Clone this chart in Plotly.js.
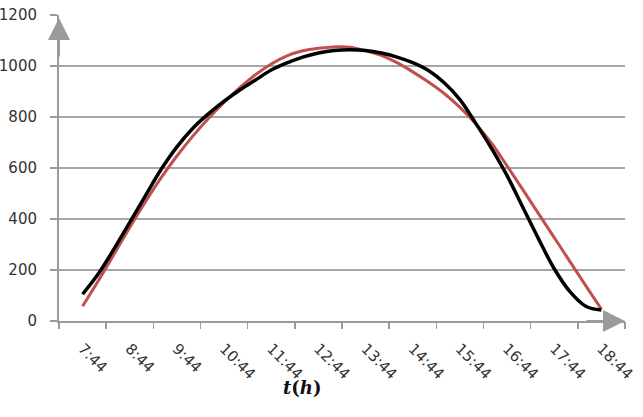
<!DOCTYPE html>
<html>
<head>
<meta charset="utf-8">
<script src="https://cdn.plot.ly/plotly-3.0.1.min.js"></script>
<style>html,body{margin:0;padding:0;background:#fff;}#chart{width:643px;height:417px;}</style>
</head>
<body>
<div id="chart"></div>
<script>
// Category (hour) labels of the x axis
const timeLabels = ["7:44","8:44","9:44","10:44","11:44","12:44","13:44","14:44","15:44","16:44","17:44","18:44"];
// Sample times of both series
const sampleTimes = ["7:44","8:04","8:24","8:44","9:04","9:24","9:44","10:04","10:24","10:44","11:04","11:24",
  "11:44","12:04","12:24","12:44","13:04","13:24","13:44","14:04","14:24","14:44","15:04","15:24",
  "15:44","16:04","16:24","16:44","17:04","17:24","17:44","18:04","18:24","18:44"];
// Measured series (black)
const measured = [105,185,283,387,492,595,683,755,812,862,906,945,
  984,1012,1035,1051,1061,1064,1061,1051,1035,1013,982,934,
  868,776,678,570,446,322,205,115,58,43];
// Model series (red)
const model = [58,158,262,367,468,562,647,724,794,857,915,966,
  1008,1040,1060,1070,1075,1074,1060,1042,1013,977,937,892,
  838,774,698,608,515,421,327,233,139,46];
const yTicks = [0,200,400,600,800,1000,1200];

function toHours(s){ const p = s.split(":"); return +p[0] + (+p[1])/60; }
const xs = sampleTimes.map(toHours);
const labelPos = timeLabels.map(toHours);
const tickBounds = labelPos.map(h => h - 0.5).concat([labelPos[labelPos.length-1] + 0.5]);
const xRange = [tickBounds[0], tickBounds[tickBounds.length-1]];

const axisGrey = "#9b9b9b";
const traces = [
  {x: xs, y: model, mode: "lines", line: {color: "#c0504d", width: 3, shape: "spline", smoothing: 1}, hoverinfo: "skip"},
  {x: xs, y: measured, mode: "lines", line: {color: "#000000", width: 3.5, shape: "spline", smoothing: 1}, hoverinfo: "skip"},
  {x: [], y: [], xaxis: "x2", yaxis: "y", mode: "lines", hoverinfo: "skip"}
];
const layout = {
  width: 643, height: 417,
  margin: {l: 59, r: 18, t: 15, b: 96},
  paper_bgcolor: "#fff", plot_bgcolor: "#fff",
  showlegend: false,
  font: {family: "DejaVu Sans", size: 15, color: "#333"},
  xaxis: {
    range: xRange,
    tickmode: "array", tickvals: labelPos, ticktext: timeLabels,
    tickangle: 45,
    ticks: "outside", ticklen: 7, tickcolor: "rgba(0,0,0,0)",
    ticklabelstandoff: 4,
    showgrid: false, zeroline: false,
    showline: true, linecolor: axisGrey, linewidth: 2,
    tickfont: {family: "DejaVu Sans", size: 15, color: "#333"},
    fixedrange: true
  },
  xaxis2: {
    overlaying: "x", anchor: "y", side: "bottom",
    range: xRange,
    tickmode: "array", tickvals: tickBounds,
    showticklabels: false,
    ticks: "outside", ticklen: 7, tickwidth: 1.5, tickcolor: axisGrey,
    showgrid: false, zeroline: false, showline: false,
    fixedrange: true
  },
  yaxis: {
    range: [0, 1200],
    tickmode: "array", tickvals: yTicks,
    ticks: "outside", ticklen: 7, tickwidth: 1.5, tickcolor: axisGrey,
    showgrid: true, gridcolor: "#a6a6a6", gridwidth: 1.5,
    zeroline: false,
    showline: true, linecolor: axisGrey, linewidth: 2,
    ticklabelstandoff: 10,
    tickfont: {family: "DejaVu Sans", size: 15, color: "#333"},
    fixedrange: true
  },
  annotations: [
    {xref: "paper", yref: "paper", x: 0, y: 0.99, ax: 0, ay: 40, text: "", showarrow: true,
     arrowhead: 2, arrowsize: 2.2, arrowwidth: 2, arrowcolor: axisGrey, standoff: 0},
    {xref: "paper", yref: "paper", x: 1, y: 0, ax: -40, ay: 0, text: "", showarrow: true,
     arrowhead: 2, arrowsize: 2.2, arrowwidth: 2, arrowcolor: axisGrey, standoff: 0},
    {xref: "paper", yref: "paper", x: 0.429, y: -0.258, text: "<b><i>t</i>(<i>h</i>)</b>", showarrow: false,
     font: {family: "DejaVu Serif", size: 18, color: "#111"}}
  ]
};
Plotly.newPlot("chart", traces, layout, {staticPlot: true, displayModeBar: false});
</script>
</body>
</html>
